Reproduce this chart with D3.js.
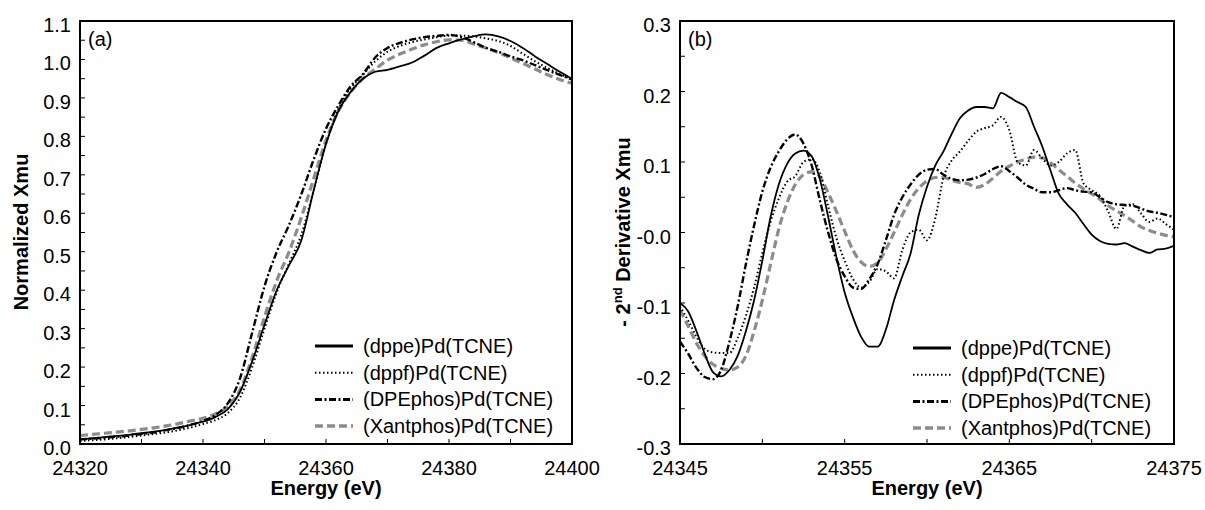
<!DOCTYPE html>
<html><head><meta charset="utf-8">
<script src="https://cdn.jsdelivr.net/npm/d3@7"></script>
<style>body{margin:0;background:#fff}text{font-family:"Liberation Sans",Arial,sans-serif}</style>
</head><body><svg id="c" width="1205" height="510"></svg>
<script>
// ---------- Data: panel (a) normalized XANES ----------
const energyA = [24320,24322,24324,24326,24328,24330,24332,24334,24336,24338,24340,24342,24344,24346,24348,24350,24352,24354,24356,24358,24360,24362,24364,24366,24368,24370,24372,24374,24376,24378,24380,24382,24384,24386,24388,24390,24392,24394,24396,24398,24400];
const dppeA = [0.012,0.015,0.018,0.021,0.024,0.028,0.032,0.037,0.043,0.050,0.058,0.070,0.090,0.135,0.215,0.310,0.400,0.465,0.530,0.660,0.780,0.865,0.915,0.950,0.968,0.973,0.982,0.992,1.010,1.030,1.042,1.052,1.060,1.065,1.060,1.048,1.030,1.008,0.988,0.968,0.950];
const dppfA = [0.008,0.010,0.012,0.015,0.018,0.022,0.026,0.030,0.036,0.043,0.052,0.062,0.080,0.120,0.200,0.300,0.395,0.470,0.545,0.660,0.780,0.870,0.925,0.960,0.995,1.020,1.035,1.045,1.052,1.058,1.062,1.062,1.060,1.055,1.048,1.035,1.015,0.995,0.978,0.962,0.948];
const dpephosA = [0.012,0.014,0.016,0.019,0.022,0.026,0.030,0.036,0.042,0.050,0.060,0.075,0.105,0.170,0.290,0.410,0.500,0.570,0.650,0.740,0.820,0.880,0.930,0.962,1.005,1.030,1.043,1.052,1.058,1.061,1.064,1.058,1.045,1.030,1.020,1.008,0.998,0.985,0.972,0.960,0.948];
const xantphosA = [0.022,0.025,0.028,0.031,0.034,0.038,0.042,0.047,0.053,0.060,0.067,0.078,0.098,0.140,0.225,0.330,0.425,0.500,0.590,0.690,0.790,0.865,0.915,0.950,0.975,0.998,1.014,1.027,1.038,1.046,1.051,1.050,1.040,1.030,1.018,1.004,0.990,0.975,0.960,0.948,0.938];

// ---------- Data: panel (b) negative 2nd derivative ----------
const energyB = [24345,24345.5,24346,24346.5,24347,24347.5,24348,24348.5,24349,24349.5,24350,24350.5,24351,24351.5,24352,24352.5,24353,24353.5,24354,24354.5,24355,24355.5,24356,24356.5,24357,24357.5,24358,24358.5,24359,24359.5,24360,24360.5,24361,24361.5,24362,24362.5,24363,24363.5,24364,24364.5,24365,24365.5,24366,24366.5,24367,24367.5,24368,24368.5,24369,24369.5,24370,24370.5,24371,24371.5,24372,24372.5,24373,24373.5,24374,24374.5,24375];
const dppeB = [-0.100,-0.112,-0.140,-0.172,-0.198,-0.204,-0.195,-0.175,-0.140,-0.096,-0.040,0.022,0.068,0.097,0.112,0.116,0.108,0.075,0.022,-0.035,-0.085,-0.120,-0.148,-0.162,-0.162,-0.138,-0.096,-0.062,-0.030,0.025,0.065,0.095,0.115,0.140,0.162,0.173,0.178,0.178,0.176,0.198,0.192,0.185,0.178,0.150,0.122,0.088,0.055,0.040,0.028,0.012,-0.003,-0.012,-0.016,-0.017,-0.015,-0.020,-0.025,-0.029,-0.024,-0.023,-0.019];
const dppfB = [-0.105,-0.125,-0.148,-0.165,-0.170,-0.171,-0.171,-0.150,-0.118,-0.078,-0.029,0.015,0.048,0.072,0.080,0.100,0.104,0.085,0.037,-0.008,-0.040,-0.066,-0.078,-0.070,-0.052,-0.055,-0.065,-0.025,0.000,0.004,-0.011,0.020,0.078,0.102,0.115,0.130,0.143,0.148,0.152,0.164,0.145,0.100,0.095,0.117,0.105,0.095,0.100,0.112,0.117,0.070,0.060,0.052,0.030,0.005,0.038,0.040,0.027,0.015,0.020,0.012,0.004];
const dpephosB = [-0.155,-0.172,-0.192,-0.205,-0.208,-0.195,-0.155,-0.105,-0.045,0.010,0.058,0.092,0.115,0.132,0.139,0.126,0.095,0.045,0.000,-0.038,-0.062,-0.078,-0.080,-0.066,-0.045,-0.011,0.025,0.050,0.068,0.082,0.089,0.090,0.082,0.076,0.074,0.075,0.078,0.083,0.090,0.094,0.087,0.078,0.068,0.062,0.057,0.057,0.060,0.063,0.060,0.058,0.057,0.050,0.043,0.040,0.039,0.038,0.034,0.030,0.028,0.025,0.022];
const xantphosB = [-0.110,-0.133,-0.157,-0.175,-0.187,-0.193,-0.195,-0.191,-0.175,-0.140,-0.096,-0.045,0.005,0.042,0.068,0.082,0.086,0.079,0.056,0.030,0.002,-0.025,-0.042,-0.048,-0.043,-0.024,0.000,0.025,0.047,0.063,0.073,0.078,0.078,0.074,0.071,0.069,0.064,0.068,0.077,0.087,0.094,0.100,0.104,0.107,0.106,0.099,0.089,0.080,0.070,0.062,0.055,0.047,0.038,0.031,0.024,0.016,0.008,0.003,-0.001,-0.004,-0.006];

const seriesNames = ["(dppe)Pd(TCNE)","(dppf)Pd(TCNE)","(DPEphos)Pd(TCNE)","(Xantphos)Pd(TCNE)"];

// tick values / labels
const xTicksA = [24320,24340,24360,24380,24400];
const xMinorA = [24330,24350,24370,24390];
const yTicksA = [0,0.1,0.2,0.3,0.4,0.5,0.6,0.7,0.8,0.9,1.0,1.1];
const yTickLabelsA = ["0.0","0.1","0.2","0.3","0.4","0.5","0.6","0.7","0.8","0.9","1.0","1.1"];
const xTicksB = [24345,24355,24365,24375];
const xMinorB = [24350,24360,24370];
const yTicksB = [-0.3,-0.2,-0.1,0,0.1,0.2,0.3];
const yTickLabelsB = ["-0.3","-0.2","-0.1","-0.0","0.1","0.2","0.3"];

// ---------- Styles ----------
const styles = [
  {stroke:"#000", width:1.8, dash:null, lw:3},
  {stroke:"#000", width:2, dash:"1.5,2.5", lw:2},
  {stroke:"#000", width:2.4, dash:"7,2.5,2,2.5", lw:3},
  {stroke:"#8c8c8c", width:3.2, dash:"8,4", lw:3.5}
];

const svg = d3.select("#c");

function panel(cfg){
  const g = svg.append("g");
  const x = d3.scaleLinear().domain(cfg.xDomain).range([cfg.left, cfg.right]);
  const y = d3.scaleLinear().domain(cfg.yDomain).range([cfg.bottom, cfg.top]);
  const clipId = "clip"+cfg.id;
  svg.append("clipPath").attr("id", clipId).append("rect")
    .attr("x", cfg.left).attr("y", cfg.top).attr("width", cfg.right-cfg.left).attr("height", cfg.bottom-cfg.top);

  const line = d3.line().x(d=>x(d[0])).y(d=>y(d[1])).curve(d3.curveMonotoneX);
  const order = [3,0,1,2];
  order.forEach(i=>{
    const pts = cfg.xs.map((e,k)=>[e, cfg.series[i][k]]);
    const p = g.append("path").attr("d", line(pts)).attr("fill","none")
      .attr("stroke", styles[i].stroke).attr("stroke-width", styles[i].width)
      .attr("clip-path", `url(#${clipId})`).attr("stroke-linejoin","round");
    if (styles[i].dash) p.attr("stroke-dasharray", styles[i].dash);
  });

  g.append("rect").attr("x", cfg.left).attr("y", cfg.top)
    .attr("width", cfg.right-cfg.left).attr("height", cfg.bottom-cfg.top)
    .attr("fill","none").attr("stroke","#000").attr("stroke-width",2);

  const yAll = [];
  for (let i=0;i<cfg.yTicks.length;i++){
    yAll.push(cfg.yTicks[i]);
    if (i<cfg.yTicks.length-1) yAll.push((cfg.yTicks[i]+cfg.yTicks[i+1])/2);
  }
  g.selectAll(null).data(yAll).enter().append("line")
    .attr("x1", cfg.left).attr("x2", cfg.left+5)
    .attr("y1", d=>y(d)).attr("y2", d=>y(d)).attr("stroke","#000").attr("stroke-width",1);
  g.selectAll(null).data(cfg.yTicks).enter().append("text")
    .attr("x", cfg.left-9).attr("y", d=>y(d)+11).attr("text-anchor","end")
    .attr("font-size",20).text((d,i)=>cfg.yLabels[i]);

  g.selectAll(null).data(cfg.xTicks.concat(cfg.xMinor)).enter().append("line")
    .attr("x1", d=>x(d)).attr("x2", d=>x(d))
    .attr("y1", cfg.bottom).attr("y2", cfg.bottom-5).attr("stroke","#000").attr("stroke-width",1);
  g.selectAll(null).data(cfg.xTicks).enter().append("text")
    .attr("x", d=>x(d)).attr("y", cfg.bottom+31).attr("text-anchor","middle")
    .attr("font-size",20).text(d=>d);

  g.append("text").attr("x",(cfg.left+cfg.right)/2).attr("y",cfg.bottom+51)
    .attr("text-anchor","middle").attr("font-size",20).attr("font-weight","bold").text("Energy (eV)");

  g.append("text").attr("x",cfg.left+8).attr("y",cfg.top+25).attr("font-size",20).text(cfg.letter);

  seriesNames.forEach((n,i)=>{
    const yy = cfg.legY + i*26.7;
    const l = g.append("line").attr("x1",cfg.legX).attr("x2",cfg.legX+38)
      .attr("y1",yy).attr("y2",yy).attr("stroke",styles[i].stroke).attr("stroke-width",styles[i].lw);
    if (styles[i].dash) l.attr("stroke-dasharray", styles[i].dash);
    g.append("text").attr("x",cfg.legX+48).attr("y",yy+7).attr("font-size",20).text(n);
  });
  return g;
}

panel({id:"a", left:80, right:572, top:21, bottom:444,
  xDomain:[24320,24400], yDomain:[0,1.1], xs:energyA,
  series:[dppeA,dppfA,dpephosA,xantphosA],
  xTicks:xTicksA, xMinor:xMinorA, yTicks:yTicksA, yLabels:yTickLabelsA,
  letter:"(a)", legX:315, legY:346});

panel({id:"b", left:680, right:1174, top:21, bottom:444,
  xDomain:[24345,24375], yDomain:[-0.3,0.3], xs:energyB,
  series:[dppeB,dppfB,dpephosB,xantphosB],
  xTicks:xTicksB, xMinor:xMinorB, yTicks:yTicksB, yLabels:yTickLabelsB,
  letter:"(b)", legX:913, legY:348});

svg.append("text").attr("transform","translate(28,232) rotate(-90)")
  .attr("text-anchor","middle").attr("font-size",20).attr("font-weight","bold").text("Normalized Xmu");
const t2 = svg.append("text").attr("transform","translate(630,232) rotate(-90)")
  .attr("text-anchor","middle").attr("font-size",20).attr("font-weight","bold");
t2.append("tspan").text("- 2");
t2.append("tspan").attr("font-size",13).attr("dy",-8).text("nd");
t2.append("tspan").attr("dy",8).text(" Derivative Xmu");
</script></body></html>
